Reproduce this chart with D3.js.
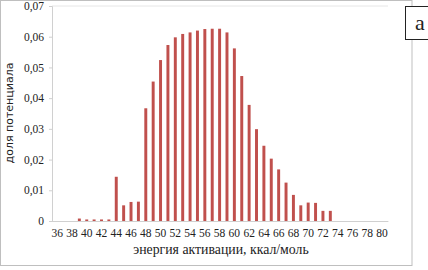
<!DOCTYPE html>
<html>
<head>
<meta charset="utf-8">
<script src="https://cdn.jsdelivr.net/npm/d3@7"></script>
<style>
  body { margin: 0; background: #fff; }
</style>
</head>
<body>
<div id="container"></div>
<script>
const w = 428;
const h = 270;

// energy of activation, kcal/mol
const energies = d3.range(36, 81);
const shares = [
  0, 0, 0, 0.0008, 0.0005, 0.0005, 0.0005, 0.0005, 0.0144, 0.0051,
  0.0062, 0.0063, 0.0367, 0.0454, 0.0524, 0.0573, 0.0598, 0.0609, 0.0614, 0.0620,
  0.0625, 0.0626, 0.0626, 0.0614, 0.0562, 0.0472, 0.0378, 0.0299, 0.0245, 0.0203,
  0.0168, 0.0125, 0.0085, 0.0051, 0.0060, 0.0059, 0.0033, 0.0033, 0, 0,
  0, 0, 0, 0, 0
];
const yTicks = [0, 0.01, 0.02, 0.03, 0.04, 0.05, 0.06, 0.07];

const data = energies.map((e, i) => ({ e: e, v: shares[i] }));

const svg = d3.select('#container')
  .append('svg')
  .attr('width', w)
  .attr('height', h)
  .attr('viewBox', [0, 0, w, h]);

// outer frame
svg.append('rect')
  .attr('x', 0.5)
  .attr('y', 0.5)
  .attr('width', 411.5)
  .attr('height', 265)
  .attr('fill', '#fff')
  .attr('stroke', '#bfbfbf');

const x = d3.scaleBand()
  .domain(energies)
  .range([51.3, 387.9])
  .padding(0.6);

const y = d3.scaleLinear()
  .domain([0, 0.07])
  .range([221, 6]);

const fmt = d => d === 0 ? '0' : d3.format('.2f')(d).replace('.', ',');

// top line of plot area
svg.append('line')
  .attr('x1', 52).attr('x2', 388)
  .attr('y1', y(0.07)).attr('y2', y(0.07))
  .attr('stroke', '#e6e6e6');

const yAxis = svg.append('g')
  .attr('transform', 'translate(52,0)')
  .call(d3.axisLeft(y).tickValues(yTicks).tickFormat(fmt).tickSize(3).tickPadding(5));

const xAxis = svg.append('g')
  .attr('transform', 'translate(0,' + y(0) + ')')
  .call(d3.axisBottom(x)
    .tickValues(energies.filter(d => d % 2 === 0))
    .tickSize(0)
    .tickPadding(8));

[yAxis, xAxis].forEach(g => {
  g.attr('font-family', 'Liberation Serif')
    .attr('font-size', 11.5);
  g.select('.domain').attr('stroke', '#d0d0d0');
  g.selectAll('.tick line').attr('stroke', '#d0d0d0');
  g.selectAll('text').attr('fill', '#222');
});

svg.selectAll('rect.bar')
  .data(data)
  .enter()
  .append('rect')
  .attr('class', 'bar')
  .attr('x', d => x(d.e))
  .attr('y', d => y(d.v))
  .attr('width', x.bandwidth())
  .attr('height', d => y(0) - y(d.v))
  .attr('fill', '#c0504d');

svg.append('text')
  .attr('x', 221)
  .attr('y', 254)
  .attr('text-anchor', 'middle')
  .attr('font-family', 'Liberation Serif')
  .attr('font-size', 13.8)
  .attr('fill', '#222')
  .text('энергия активации, ккал/моль');

svg.append('text')
  .attr('transform', 'translate(13,113) rotate(-90)')
  .attr('text-anchor', 'middle')
  .attr('font-family', 'DejaVu Sans')
  .attr('font-size', 11)
  .attr('fill', '#222')
  .text('доля потенциала');

// panel label
svg.append('rect')
  .attr('x', 405.5)
  .attr('y', 6.5)
  .attr('width', 30)
  .attr('height', 33)
  .attr('fill', '#fff')
  .attr('stroke', '#222');

svg.append('text')
  .attr('x', 415)
  .attr('y', 30)
  .attr('font-family', 'Liberation Serif')
  .attr('font-size', 22)
  .attr('fill', '#222')
  .text('а');
</script>
</body>
</html>
